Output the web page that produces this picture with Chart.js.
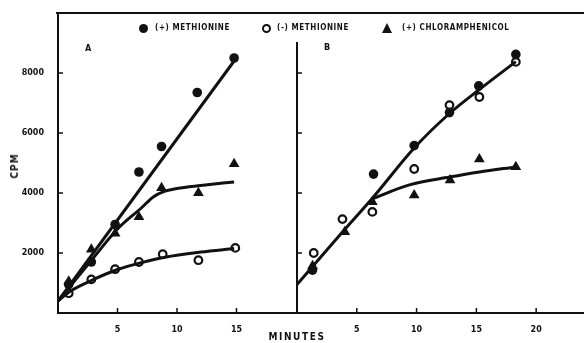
<!DOCTYPE html>
<html>
<head>
<meta charset="utf-8">
<script src="https://cdn.jsdelivr.net/npm/chart.js@4/dist/chart.umd.min.js"></script>
<style>
  html, body { margin: 0; padding: 0; background: #fff; }
  #wrap { position: relative; width: 584px; height: 343px; overflow: hidden; }
  #wrap canvas { position: absolute; left: 0; top: 0; }
  .lbl { position: absolute; font-family: 'DejaVu Sans Condensed', 'DejaVu Sans', sans-serif; font-weight: bold; color: #111; white-space: nowrap; line-height: 1; }
  .leg { font-size: 8px; letter-spacing: 0.6px; top: 24px; }
  .mk { position: absolute; }
  .dot { width: 9px; height: 9px; border-radius: 50%; background: #111; top: 24px; }
  .ring { width: 5px; height: 5px; border-radius: 50%; border: 2px solid #111; top: 24px; }
  .tri { width: 0; height: 0; border-left: 5.5px solid transparent; border-right: 5.5px solid transparent; border-bottom: 10px solid #111; top: 23px; }
</style>
</head>
<body>
<div id="wrap">
  <canvas id="chartA" width="584" height="343"></canvas>
  <canvas id="chartB" width="584" height="343"></canvas>

  <div class="mk dot" style="left:139px"></div>
  <div class="lbl leg" style="left:155px">(+) METHIONINE</div>
  <div class="mk ring" style="left:262px"></div>
  <div class="lbl leg" style="left:277px">(-) METHIONINE</div>
  <div class="mk tri" style="left:382px"></div>
  <div class="lbl leg" style="left:402px">(+) CHLORAMPHENICOL</div>

  <div class="lbl" style="left:85px; top:44px; font-size:9px">A</div>
  <div class="lbl" style="left:324px; top:43px; font-size:9px">B</div>
  <div class="lbl" style="left:15px; top:166px; font-size:10px; letter-spacing:1px; transform: translate(-50%,-50%) rotate(-90deg)">CPM</div>
  <div class="lbl" style="left:297px; top:337px; font-size:10px; letter-spacing:1.6px; transform: translate(-50%,-50%)">MINUTES</div>
</div>

<script>
/* ── Panel A data (minutes / CPM) ─────────────────── */
const aMetPlusX  = [0.9, 2.8, 4.8, 6.8, 8.7, 11.7, 14.8];
const aMetPlusY  = [950, 1700, 2950, 4700, 5550, 7350, 8500];
const aMetMinusX = [0.9, 2.8, 4.8, 6.8, 8.8, 11.8, 14.9];
const aMetMinusY = [660, 1120, 1460, 1700, 1960, 1760, 2170];
const aChlorX    = [0.9, 2.8, 4.8, 6.8, 8.7, 11.8, 14.8];
const aChlorY    = [1050, 2120, 2650, 3200, 4170, 4000, 4970];

// fitted curves, panel A
const aFitPlusX  = [0, 14.8];
const aFitPlusY  = [400, 8400];
const aFitChlorX = [0, 3, 5, 7, 8, 9, 10, 12, 14.8];
const aFitChlorY = [400, 1850, 2800, 3500, 3870, 4060, 4150, 4250, 4370];
const aFitMinusX = [0, 1, 3, 5, 7, 9, 12, 14.8];
const aFitMinusY = [400, 720, 1120, 1450, 1680, 1860, 2030, 2150];

/* ── Panel B data ─────────────────────────────────── */
const bMetPlusX  = [1.3, 6.4, 9.8, 12.75, 15.2, 18.3];
const bMetPlusY  = [1430, 4630, 5580, 6680, 7570, 8620];
const bMetMinusX = [1.4, 3.8, 6.3, 9.8, 12.75, 15.25, 18.3];
const bMetMinusY = [2000, 3130, 3370, 4800, 6930, 7200, 8370];
const bChlorX    = [1.3, 4.0, 6.3, 9.8, 12.8, 15.25, 18.3];
const bChlorY    = [1570, 2700, 3700, 3930, 4430, 5130, 4870];

// fitted curves, panel B
const bFitMainX  = [0, 3.8, 6.25, 9.8, 12.75, 15.25, 18.3];
const bFitMainY  = [950, 2700, 3800, 5500, 6650, 7450, 8380];
const bFitChlorX = [6.25, 9.4, 12.75, 15.25, 18.3];
const bFitChlorY = [3800, 4270, 4530, 4700, 4870];

/* ── Tick values ──────────────────────────────────── */
const yTicks  = [2000, 4000, 6000, 8000];
const aXTicks = [5, 10, 15];
const bXTicks = [5, 10, 15, 20];

/* ── Helpers ──────────────────────────────────────── */
const INK = '#111';
const TICK_FONT = { family: "'DejaVu Sans', sans-serif", size: 8, weight: 'bold' };

function pts(xs, ys) { return xs.map((x, i) => ({ x, y: ys[i] })); }

function marks(xs, ys, kind) {
  const base = { data: pts(xs, ys), showLine: false, borderColor: INK, pointHoverRadius: 0 };
  if (kind === 'dot')  return { ...base, pointStyle: 'circle', pointRadius: 4.8, backgroundColor: INK, borderWidth: 0 };
  if (kind === 'ring') return { ...base, pointStyle: 'circle', pointRadius: 3.8, backgroundColor: '#fff', borderWidth: 2.2 };
  return { ...base, pointStyle: 'triangle', pointRadius: 6.2, backgroundColor: INK, borderWidth: 0 };
}

function fit(xs, ys) {
  return { data: pts(xs, ys), showLine: true, borderColor: INK, borderWidth: 3,
           pointRadius: 0, cubicInterpolationMode: 'monotone', fill: false };
}

// inward tick marks, placed through the scales
const innerTicks = {
  id: 'innerTicks',
  afterDraw(chart, args, opts) {
    const { ctx } = chart;
    const xs = chart.scales.x, ys = chart.scales.y;
    ctx.save();
    ctx.strokeStyle = INK;
    ctx.lineWidth = 1.5;
    opts.x.forEach(v => {
      const px = xs.getPixelForValue(v);
      ctx.beginPath(); ctx.moveTo(px, ys.bottom); ctx.lineTo(px, ys.bottom - 5); ctx.stroke();
    });
    opts.y.forEach(v => {
      const py = ys.getPixelForValue(v);
      ctx.beginPath(); ctx.moveTo(xs.left, py); ctx.lineTo(xs.left + 5, py); ctx.stroke();
    });
    if (opts.frame) {
      ctx.lineWidth = 2;
      ctx.beginPath(); ctx.moveTo(xs.left - 2, ys.top); ctx.lineTo(chart.width, ys.top); ctx.stroke();
    }
    ctx.restore();
  }
};

function makeOptions(cfg) {
  return {
    responsive: false,
    animation: false,
    devicePixelRatio: 1,
    layout: { padding: cfg.padding, autoPadding: false },
    plugins: { legend: { display: false }, tooltip: { enabled: false },
               innerTicks: { x: cfg.xTicks, y: yTicks, frame: cfg.frame } },
    scales: {
      x: {
        type: 'linear', min: 0, max: cfg.xMax,
        afterBuildTicks: s => { s.ticks = cfg.xTicks.map(v => ({ value: v })); },
        afterFit: s => { s.height = 30; s.paddingLeft = 0; s.paddingRight = 0; },
        border: { display: true, color: INK, width: 2 },
        grid: { display: false },
        ticks: { color: INK, font: TICK_FONT, padding: 4, maxRotation: 0, autoSkip: false,
                 callback: v => String(v) }
      },
      y: {
        type: 'linear', min: 0, max: cfg.yMax,
        afterBuildTicks: s => { s.ticks = yTicks.map(v => ({ value: v })); },
        afterFit: s => { s.width = cfg.yWidth; s.paddingTop = 0; s.paddingBottom = 0; },
        border: { display: true, color: INK, width: 2 },
        grid: { display: false },
        ticks: { display: cfg.yLabels, color: INK, font: TICK_FONT, padding: 6,
                 callback: v => String(v) }
      }
    }
  };
}

/* ── Panel A ──────────────────────────────────────── */
new Chart(document.getElementById('chartA'), {
  type: 'scatter',
  data: { datasets: [
    fit(aFitPlusX, aFitPlusY),
    fit(aFitChlorX, aFitChlorY),
    fit(aFitMinusX, aFitMinusY),
    marks(aMetPlusX, aMetPlusY, 'dot'),
    marks(aChlorX, aChlorY, 'tri'),
    marks(aMetMinusX, aMetMinusY, 'ring')
  ] },
  options: makeOptions({ padding: { left: 0, top: 13, right: 288, bottom: 0 },
                         xMax: 20, yMax: 10000, yWidth: 58, yLabels: true, xTicks: aXTicks, frame: true }),
  plugins: [innerTicks]
});

/* ── Panel B ──────────────────────────────────────── */
new Chart(document.getElementById('chartB'), {
  type: 'scatter',
  data: { datasets: [
    fit(bFitMainX, bFitMainY),
    fit(bFitChlorX, bFitChlorY),
    marks(bMetPlusX, bMetPlusY, 'dot'),
    marks(bChlorX, bChlorY, 'tri'),
    marks(bMetMinusX, bMetMinusY, 'ring')
  ] },
  options: makeOptions({ padding: { left: 287, top: 43, right: 0, bottom: 0 },
                         xMax: 24, yMax: 9000, yWidth: 10, yLabels: false, xTicks: bXTicks, frame: false }),
  plugins: [innerTicks]
});
</script>
</body>
</html>
